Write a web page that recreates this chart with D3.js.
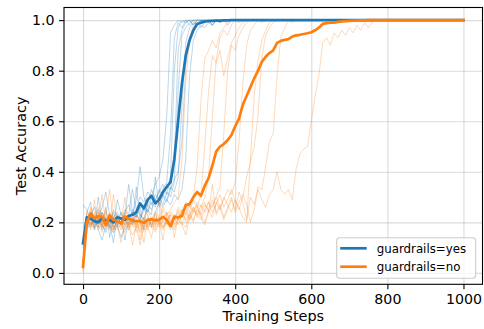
<!DOCTYPE html>
<html>
<head>
<meta charset="utf-8">
<script src="https://cdn.jsdelivr.net/npm/d3@7"></script>
<style>
  body { margin: 0; background: #fff; }
  svg { font-family: "DejaVu Sans", sans-serif; }
</style>
</head>
<body>
<svg id="chart" width="484" height="329"></svg>
<script>
// ********************************* Data (one point every 10 training steps)

const STEP = 10;
const xTicks = [0, 200, 400, 600, 800, 1000];
const yTicks = [0, 0.2, 0.4, 0.6, 0.8, 1.0];
const seriesNames = ['guardrails=yes', 'guardrails=no'];

// mean curves, steps 0..1000
const yesMean = [
  0.117, 0.22, 0.215, 0.205, 0.20, 0.215, 0.205, 0.21, 0.20, 0.22,
  0.215, 0.21, 0.225, 0.23, 0.24, 0.275, 0.255, 0.29, 0.305, 0.275,
  0.29, 0.32, 0.34, 0.36, 0.45, 0.60, 0.75, 0.86, 0.92, 0.96,
  0.985, 0.99, 0.995, 0.996, 0.997, 0.998, 0.998, 0.999, 0.999, 1.0,
  1.0, 1.0, 1.0, 1.0, 1.0, 1.0, 1.0, 1.0, 1.0, 1.0,
  1.0, 1.0, 1.0, 1.0, 1.0, 1.0, 1.0, 1.0, 1.0, 1.0,
  1.0, 1.0, 1.0, 1.0, 1.0, 1.0, 1.0, 1.0, 1.0, 1.0,
  1.0, 1.0, 1.0, 1.0, 1.0, 1.0, 1.0, 1.0, 1.0, 1.0,
  1.0, 1.0, 1.0, 1.0, 1.0, 1.0, 1.0, 1.0, 1.0, 1.0,
  1.0, 1.0, 1.0, 1.0, 1.0, 1.0, 1.0, 1.0, 1.0, 1.0,
  1.0
];
const noMean = [
  0.024, 0.20, 0.235, 0.215, 0.225, 0.222, 0.19, 0.228, 0.21, 0.205,
  0.195, 0.222, 0.215, 0.208, 0.205, 0.205, 0.198, 0.21, 0.212, 0.208,
  0.21, 0.222, 0.21, 0.185, 0.222, 0.22, 0.225, 0.268, 0.272, 0.30,
  0.32, 0.305, 0.345, 0.375, 0.425, 0.48, 0.50, 0.51, 0.525, 0.545,
  0.58, 0.61, 0.665, 0.70, 0.735, 0.77, 0.80, 0.835, 0.855, 0.87,
  0.88, 0.91, 0.918, 0.922, 0.925, 0.935, 0.94, 0.942, 0.945, 0.948,
  0.952, 0.96, 0.97, 0.985, 0.988, 0.99, 0.99, 0.993, 0.995, 0.996,
  0.997, 0.998, 0.998, 0.999, 0.999, 1.0, 1.0, 1.0, 1.0, 1.0,
  1.0, 1.0, 1.0, 1.0, 1.0, 1.0, 1.0, 1.0, 1.0, 1.0,
  1.0, 1.0, 1.0, 1.0, 1.0, 1.0, 1.0, 1.0, 1.0, 1.0,
  1.0
];

// individual seeds, each stops some time after it hits 100%
const yesRuns = [
  [0.27, 0.25, 0.21, 0.18, 0.30, 0.20, 0.26, 0.14, 0.22, 0.24, 0.21, 0.25, 0.23, 0.33, 0.25, 0.30, 0.28, 0.32, 0.30, 0.35, 0.38, 0.45, 0.62, 0.95, 0.98, 1.0, 0.99, 1.0, 1.0, 1.0, 1.0],
  [0.08, 0.20, 0.24, 0.22, 0.17, 0.13, 0.19, 0.23, 0.18, 0.29, 0.23, 0.21, 0.19, 0.24, 0.22, 0.26, 0.17, 0.29, 0.27, 0.31, 0.29, 0.33, 0.36, 0.55, 0.93, 0.99, 0.97, 1.0, 0.98, 1.0, 1.0, 1.0, 1.0],
  [0.15, 0.18, 0.22, 0.26, 0.20, 0.24, 0.21, 0.18, 0.25, 0.22, 0.20, 0.24, 0.27, 0.23, 0.29, 0.42, 0.30, 0.27, 0.33, 0.29, 0.32, 0.35, 0.31, 0.38, 0.80, 0.97, 1.0, 0.99, 1.0, 0.98, 1.0, 1.0, 1.0, 1.0, 1.0],
  [0.05, 0.22, 0.19, 0.21, 0.25, 0.18, 0.22, 0.20, 0.12, 0.23, 0.21, 0.19, 0.22, 0.20, 0.34, 0.22, 0.27, 0.25, 0.23, 0.38, 0.26, 0.30, 0.28, 0.33, 0.45, 0.88, 0.96, 0.99, 1.0, 0.98, 1.0, 1.0, 1.0, 1.0],
  [0.12, 0.24, 0.28, 0.17, 0.22, 0.19, 0.16, 0.21, 0.24, 0.19, 0.22, 0.13, 0.21, 0.25, 0.23, 0.21, 0.26, 0.24, 0.28, 0.26, 0.30, 0.27, 0.32, 0.30, 0.36, 0.72, 0.94, 0.97, 0.99, 1.0, 0.98, 1.0, 0.99, 1.0, 1.0, 1.0, 1.0],
  [0.10, 0.19, 0.23, 0.20, 0.18, 0.24, 0.21, 0.19, 0.17, 0.22, 0.20, 0.23, 0.21, 0.19, 0.25, 0.23, 0.21, 0.27, 0.25, 0.29, 0.27, 0.31, 0.29, 0.34, 0.32, 0.38, 0.66, 0.91, 0.97, 0.99, 0.98, 1.0, 0.99, 1.0, 0.98, 1.0, 1.0, 1.0, 1.0],
  [0.18, 0.21, 0.18, 0.23, 0.21, 0.26, 0.32, 0.23, 0.21, 0.18, 0.24, 0.22, 0.35, 0.24, 0.22, 0.28, 0.26, 0.24, 0.30, 0.28, 0.33, 0.30, 0.35, 0.33, 0.37, 0.40, 0.52, 0.82, 0.93, 0.96, 0.99, 0.97, 0.99, 1.0, 0.98, 1.0, 0.99, 1.0, 1.0, 1.0],
  [0.04, 0.17, 0.20, 0.18, 0.21, 0.17, 0.20, 0.18, 0.16, 0.19, 0.14, 0.18, 0.22, 0.20, 0.23, 0.21, 0.25, 0.23, 0.18, 0.24, 0.28, 0.26, 0.29, 0.27, 0.31, 0.29, 0.33, 0.45, 0.78, 0.92, 0.96, 0.98, 0.97, 0.99, 0.98, 1.0, 0.99, 1.0, 0.98, 1.0, 1.0]
];
const noRuns = [
  [0.03, 0.20, 0.25, 0.21, 0.24, 0.19, 0.22, 0.33, 0.20, 0.23, 0.18, 0.24, 0.21, 0.19, 0.23, 0.13, 0.22, 0.25, 0.21, 0.24, 0.22, 0.26, 0.23, 0.25, 0.28, 0.30, 0.45, 0.75, 0.93, 0.98, 1.0, 0.99, 1.0, 1.0, 1.0, 1.0],
  [0.01, 0.22, 0.18, 0.24, 0.20, 0.31, 0.19, 0.22, 0.17, 0.21, 0.24, 0.20, 0.18, 0.22, 0.19, 0.23, 0.21, 0.18, 0.14, 0.22, 0.20, 0.25, 0.19, 0.23, 0.21, 0.26, 0.24, 0.28, 0.26, 0.30, 0.42, 0.68, 0.85, 0.88, 0.92, 0.89, 0.95, 0.97, 0.99, 1.0, 1.0, 1.0, 1.0],
  [0.04, 0.17, 0.23, 0.20, 0.26, 0.21, 0.17, 0.24, 0.22, 0.19, 0.12, 0.21, 0.23, 0.18, 0.20, 0.17, 0.22, 0.19, 0.21, 0.18, 0.30, 0.20, 0.24, 0.21, 0.19, 0.25, 0.22, 0.27, 0.24, 0.29, 0.26, 0.31, 0.50, 0.72, 0.86, 0.83, 0.88, 0.78, 0.85, 0.91, 0.94, 0.97, 0.99, 1.0, 1.0, 1.0, 1.0, 1.0],
  [0.02, 0.24, 0.21, 0.19, 0.23, 0.18, 0.25, 0.20, 0.23, 0.21, 0.19, 0.22, 0.17, 0.21, 0.18, 0.20, 0.16, 0.19, 0.22, 0.20, 0.18, 0.21, 0.24, 0.20, 0.23, 0.21, 0.25, 0.23, 0.27, 0.24, 0.28, 0.26, 0.30, 0.38, 0.62, 0.84, 0.93, 0.96, 0.94, 0.98, 1.0, 0.99, 1.0, 1.0, 1.0, 1.0],
  [0.00, 0.19, 0.26, 0.22, 0.18, 0.23, 0.20, 0.17, 0.21, 0.19, 0.22, 0.18, 0.20, 0.11, 0.19, 0.21, 0.17, 0.20, 0.18, 0.22, 0.19, 0.17, 0.21, 0.23, 0.14, 0.22, 0.19, 0.24, 0.21, 0.25, 0.23, 0.27, 0.24, 0.28, 0.26, 0.30, 0.34, 0.55, 0.80, 0.90, 0.88, 0.94, 0.97, 0.99, 1.0, 1.0, 1.0, 1.0, 1.0],
  [0.03, 0.21, 0.19, 0.29, 0.17, 0.20, 0.24, 0.19, 0.16, 0.22, 0.20, 0.17, 0.19, 0.15, 0.18, 0.20, 0.12, 0.21, 0.19, 0.16, 0.20, 0.18, 0.22, 0.19, 0.17, 0.21, 0.24, 0.20, 0.23, 0.26, 0.22, 0.25, 0.28, 0.24, 0.27, 0.30, 0.26, 0.29, 0.33, 0.31, 0.36, 0.52, 0.75, 0.90, 0.96, 0.98, 1.0, 0.99, 1.0, 1.0, 1.0, 1.0],
  [0.05, 0.18, 0.22, 0.20, 0.24, 0.19, 0.21, 0.18, 0.31, 0.20, 0.17, 0.22, 0.19, 0.21, 0.16, 0.19, 0.22, 0.18, 0.20, 0.17, 0.21, 0.13, 0.23, 0.20, 0.18, 0.22, 0.25, 0.21, 0.24, 0.20, 0.26, 0.23, 0.27, 0.25, 0.22, 0.28, 0.25, 0.30, 0.27, 0.24, 0.29, 0.26, 0.22, 0.20, 0.45, 0.70, 0.84, 0.92, 0.96, 0.99, 1.0, 1.0, 1.0, 1.0, 1.0],
  [0.02, 0.23, 0.20, 0.17, 0.21, 0.24, 0.18, 0.22, 0.19, 0.17, 0.20, 0.30, 0.18, 0.21, 0.19, 0.16, 0.20, 0.18, 0.21, 0.24, 0.19, 0.22, 0.20, 0.18, 0.23, 0.21, 0.19, 0.15, 0.22, 0.26, 0.23, 0.21, 0.25, 0.28, 0.24, 0.27, 0.31, 0.26, 0.29, 0.33, 0.28, 0.25, 0.30, 0.38, 0.44, 0.50, 0.62, 0.85, 0.94, 0.97, 0.99, 1.0, 1.0, 1.0, 1.0, 1.0],
  [0.04, 0.20, 0.17, 0.22, 0.19, 0.16, 0.21, 0.23, 0.18, 0.20, 0.22, 0.19, 0.17, 0.21, 0.24, 0.20, 0.18, 0.22, 0.19, 0.23, 0.21, 0.18, 0.20, 0.24, 0.22, 0.19, 0.23, 0.26, 0.21, 0.24, 0.27, 0.23, 0.20, 0.25, 0.29, 0.24, 0.27, 0.22, 0.26, 0.30, 0.25, 0.32, 0.28, 0.21, 0.30, 0.27, 0.34, 0.33, 0.42, 0.52, 0.55, 0.78, 0.93, 0.97, 1.0, 0.99, 1.0, 1.0, 1.0, 1.0, 1.0],
  [0.01, 0.21, 0.24, 0.19, 0.22, 0.18, 0.20, 0.23, 0.17, 0.21, 0.19, 0.16, 0.20, 0.22, 0.18, 0.11, 0.19, 0.17, 0.21, 0.19, 0.22, 0.18, 0.20, 0.17, 0.21, 0.24, 0.20, 0.18, 0.23, 0.21, 0.25, 0.22, 0.19, 0.24, 0.35, 0.23, 0.26, 0.21, 0.25, 0.29, 0.24, 0.28, 0.31, 0.27, 0.20, 0.25, 0.33, 0.29, 0.26, 0.31, 0.33, 0.40, 0.33, 0.31, 0.33, 0.29, 0.41, 0.47, 0.49, 0.50, 0.60, 0.70, 0.78, 0.91, 0.93, 0.90, 0.95, 0.93, 0.96, 0.94, 0.97, 0.95, 0.98, 0.96, 0.99, 0.97, 0.99, 1.0, 1.0]
];

const colors = ['#1f77b4', '#ff7f0e'];

// ********************************* Frame

const margin = {top: 7.5, right: 1.5, bottom: 44.7, left: 64};
const width = 484 - margin.left - margin.right;
const height = 329 - margin.top - margin.bottom;

const svg = d3.select('#chart')
  .append('g')
  .attr('transform', 'translate(' + margin.left + ',' + margin.top + ')');

const x = d3.scaleLinear().domain([-50, 1050]).range([0, width]);
const y = d3.scaleLinear().domain([-0.045, 1.05]).range([height, 0]);

// ********************************* Grid Lines

svg.append('g')
  .attr('class', 'x-grid')
  .attr('transform', 'translate(0,' + height + ')')
  .call(d3.axisBottom(x).tickValues(xTicks).tickSize(-height).tickFormat(''))
  .call(g => g.select('.domain').remove())
  .selectAll('line')
  .attr('stroke', '#b0b0b0').attr('stroke-opacity', 0.45).attr('stroke-width', 1.1);

svg.append('g')
  .attr('class', 'y-grid')
  .call(d3.axisLeft(y).tickValues(yTicks).tickSize(-width).tickFormat(''))
  .call(g => g.select('.domain').remove())
  .selectAll('line')
  .attr('stroke', '#b0b0b0').attr('stroke-opacity', 0.45).attr('stroke-width', 1.1);

// ********************************* Lines

const line = d3.line()
  .x((d, i) => x(i * STEP))
  .y(d => y(d));

[yesRuns, noRuns].forEach((runs, k) => {
  svg.append('g')
    .selectAll('path')
    .data(runs)
    .enter().append('path')
    .attr('d', line)
    .attr('fill', 'none')
    .attr('stroke', colors[k])
    .attr('stroke-opacity', 0.33)
    .attr('stroke-width', 0.9);
});

[yesMean, noMean].forEach((m, k) => {
  svg.append('path')
    .datum(m)
    .attr('d', line)
    .attr('fill', 'none')
    .attr('stroke', colors[k])
    .attr('stroke-width', 2.7)
    .attr('stroke-linejoin', 'round')
    .attr('stroke-linecap', 'square');
});

// ********************************* Axes

const xAxis = svg.append('g')
  .attr('transform', 'translate(0,' + height + ')')
  .call(d3.axisBottom(x).tickValues(xTicks).tickSize(4.9).tickPadding(4.5).tickSizeOuter(0)
    .tickFormat(d3.format('d')));

const yAxis = svg.append('g')
  .call(d3.axisLeft(y).tickValues(yTicks).tickSize(4.9).tickPadding(4.5).tickSizeOuter(0)
    .tickFormat(d3.format('.1f')));

[xAxis, yAxis].forEach(g => {
  g.select('.domain').remove();
  g.selectAll('line').attr('stroke', '#000').attr('stroke-width', 1.1);
  g.selectAll('text').attr('fill', '#000').style('font-size', '14.2px')
    .style('font-family', '"DejaVu Sans", sans-serif');
});

// spines
svg.append('rect')
  .attr('width', width).attr('height', height)
  .attr('fill', 'none').attr('stroke', '#000').attr('stroke-width', 1.1);

svg.append('text')
  .attr('x', width / 2).attr('y', height + 36.8)
  .attr('text-anchor', 'middle')
  .style('font-size', '14.4px')
  .text('Training Steps');

svg.append('text')
  .attr('transform', 'translate(' + (-38.5) + ',' + (height / 2) + ') rotate(-90)')
  .attr('text-anchor', 'middle')
  .style('font-size', '14.4px')
  .text('Test Accuracy');

// ********************************* Legend

const legend = svg.append('g')
  .attr('transform', 'translate(' + (336.7 - margin.left) + ',' + (237.7 - margin.top) + ')');

legend.append('rect')
  .attr('width', 139).attr('height', 40.6)
  .attr('rx', 3).attr('ry', 3)
  .attr('fill', '#fff').attr('fill-opacity', 0.8)
  .attr('stroke', '#cccccc').attr('stroke-width', 1.1);

seriesNames.forEach((name, i) => {
  const row = legend.append('g').attr('transform', 'translate(0,' + (10.6 + i * 18.4) + ')');
  row.append('line')
    .attr('x1', 3.5).attr('x2', 30)
    .attr('stroke', colors[i]).attr('stroke-width', 2.7);
  row.append('text')
    .attr('x', 40).attr('dy', '0.36em')
    .style('font-size', '11.8px')
    .text(name);
});
</script>
</body>
</html>
